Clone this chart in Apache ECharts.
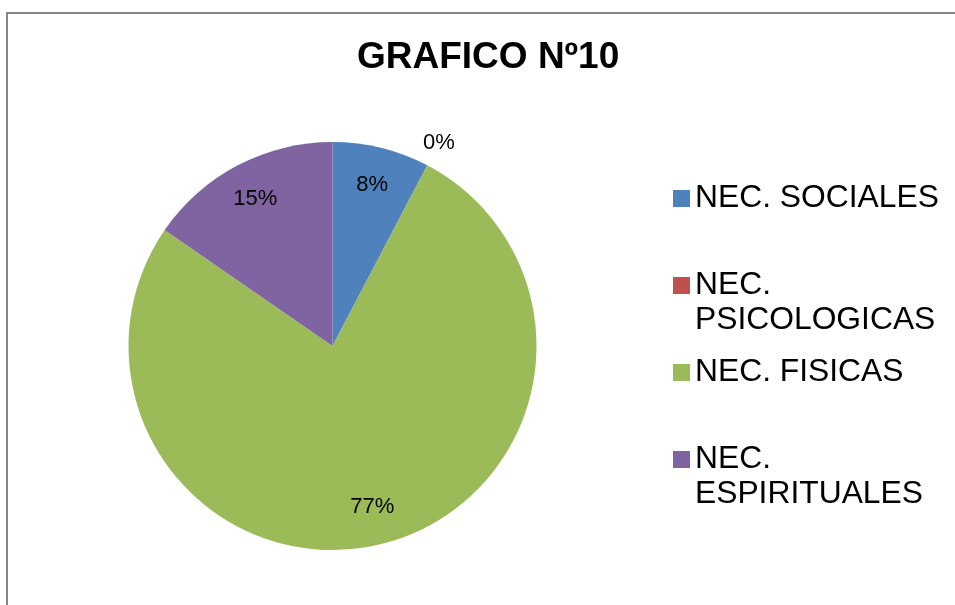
<!DOCTYPE html>
<html>
<head>
<meta charset="utf-8">
<script src="https://cdn.jsdelivr.net/npm/echarts@6/dist/echarts.min.js"></script>
<style>
html,body{margin:0;padding:0;background:#fff;}
#chart{width:955px;height:605px;}
</style>
</head>
<body>
<div id="chart"></div>
<script>
// Data
const categories = ['NEC. SOCIALES', 'NEC. PSICOLOGICAS', 'NEC. FISICAS', 'NEC. ESPIRITUALES'];
const legendLabels = ['NEC. SOCIALES', ' \nNEC.\nPSICOLOGICAS', 'NEC. FISICAS', ' \nNEC.\nESPIRITUALES'];
const counts = [1, 0, 10, 2];
const colors = ['#4F81BD', '#C0504D', '#9BBB59', '#8064A2'];
const titleText = 'GRAFICO Nº10';

const seriesData = categories.map((c, i) => ({ name: c, value: counts[i] }));
const pct = p => Math.round(p.percent) + '%';
const labelFont = { fontFamily: 'Liberation Sans', fontSize: 22, color: '#000' };

const chart = echarts.init(document.getElementById('chart'), null, { renderer: 'canvas' });
chart.setOption({
  animation: false,
  color: colors,
  title: {
    text: titleText,
    left: 357, top: 39, padding: 0,
    textStyle: { fontFamily: 'Liberation Sans', fontWeight: 'bold', fontSize: 37, color: '#000' }
  },
  legend: {
    orient: 'vertical',
    left: 673, top: 177, padding: 0,
    itemWidth: 17, itemHeight: 17, itemGap: 9,
    icon: 'rect',
    selectedMode: false,
    data: categories,
    formatter: name => legendLabels[categories.indexOf(name)],
    textStyle: { fontFamily: 'Liberation Sans', fontSize: 31.8, color: '#000', lineHeight: 35, padding: [8, 0, 0, 0] }
  },
  graphic: [{
    type: 'rect', silent: true, z: -10,
    shape: { x: 7, y: 13, width: 1000, height: 1000 },
    style: { fill: 'none', stroke: '#868686', lineWidth: 2 }
  }],
  series: [
    {
      type: 'pie', center: [332.5, 346], radius: [0, 204],
      startAngle: 90, clockwise: true, avoidLabelOverlap: false,
      silent: true,
      label: { show: false }, labelLine: { show: false },
      itemStyle: { borderWidth: 0 },
      data: seriesData
    },
    {
      type: 'pie', center: [332.5, 346], radius: [128, 198],
      startAngle: 90, clockwise: true, avoidLabelOverlap: false,
      silent: true,
      itemStyle: { color: 'transparent', borderWidth: 0 },
      label: Object.assign({ show: true, position: 'inside', formatter: p => p.value === 0 ? '' : pct(p) }, labelFont),
      labelLine: { show: false },
      data: seriesData
    },
    {
      type: 'pie', center: [332.5, 346], radius: [216, 236],
      startAngle: 90, clockwise: true, avoidLabelOverlap: false,
      silent: true,
      itemStyle: { color: 'transparent', borderWidth: 0 },
      label: Object.assign({ show: true, position: 'inside', formatter: p => p.value === 0 ? pct(p) : '' }, labelFont),
      labelLine: { show: false },
      data: seriesData
    }
  ]
});
</script>
</body>
</html>
